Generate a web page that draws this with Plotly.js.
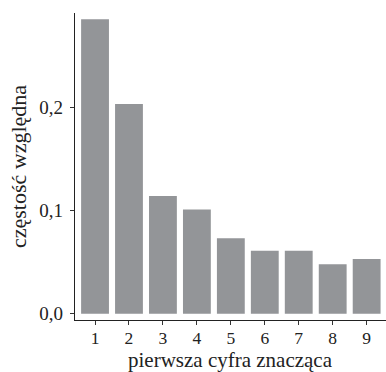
<!DOCTYPE html>
<html>
<head>
<meta charset="utf-8">
<script src="https://cdn.plot.ly/plotly-3.0.1.min.js"></script>
<style>html,body{margin:0;padding:0;background:#fff;}#chart{width:386px;height:372px;}</style>
</head>
<body>
<div id="chart"></div>
<script>
const digits = [1, 2, 3, 4, 5, 6, 7, 8, 9];
const relFreq = [0.285, 0.203, 0.114, 0.101, 0.073, 0.061, 0.061, 0.048, 0.053];
const yTicks = [0, 0.1, 0.2];
const xTitle = "pierwsza cyfra znacząca";
const yTitle = "częstość względna";

const FONT = "Liberation Serif, serif";

Plotly.newPlot("chart", [{
  type: "bar",
  x: digits,
  y: relFreq,
  width: 0.82,
  marker: {color: "#939598", line: {width: 0}},
  hoverinfo: "skip"
}], {
  width: 386,
  height: 372,
  margin: {l: 75, r: 0, t: 13, b: 52},
  paper_bgcolor: "#fff",
  plot_bgcolor: "#fff",
  separators: ",.",
  font: {family: FONT, size: 18, color: "#222"},
  showlegend: false,
  xaxis: {
    range: [0.41, 9.57],
    tickvals: digits,
    ticktext: digits.map(String),
    showgrid: false,
    zeroline: false,
    showline: true,
    linecolor: "#222",
    linewidth: 1.2,
    ticks: "outside",
    ticklen: 4,
    ticklabelstandoff: -2,
    tickcolor: "#333",
    tickfont: {family: FONT, size: 17.5, color: "#222"}
  },
  yaxis: {
    range: [-0.006, 0.291],
    tickvals: yTicks,
    tickformat: ".1f",
    ticklabelstandoff: 3,
    showgrid: false,
    zeroline: false,
    showline: true,
    linecolor: "#222",
    linewidth: 1.2,
    ticks: "outside",
    ticklen: 4,
    tickcolor: "#333",
    tickfont: {family: FONT, size: 19, color: "#222"},
    title: {text: yTitle, font: {family: FONT, size: 22, color: "#222"}, standoff: 6}
  },
  annotations: [{
    text: xTitle,
    xref: "paper", yref: "paper",
    x: 0.5, y: 0,
    xanchor: "center", yanchor: "bottom",
    yshift: -53,
    showarrow: false,
    borderpad: 0,
    font: {family: FONT, size: 21, color: "#222"}
  }]
}, {displayModeBar: false, staticPlot: true});
</script>
</body>
</html>
